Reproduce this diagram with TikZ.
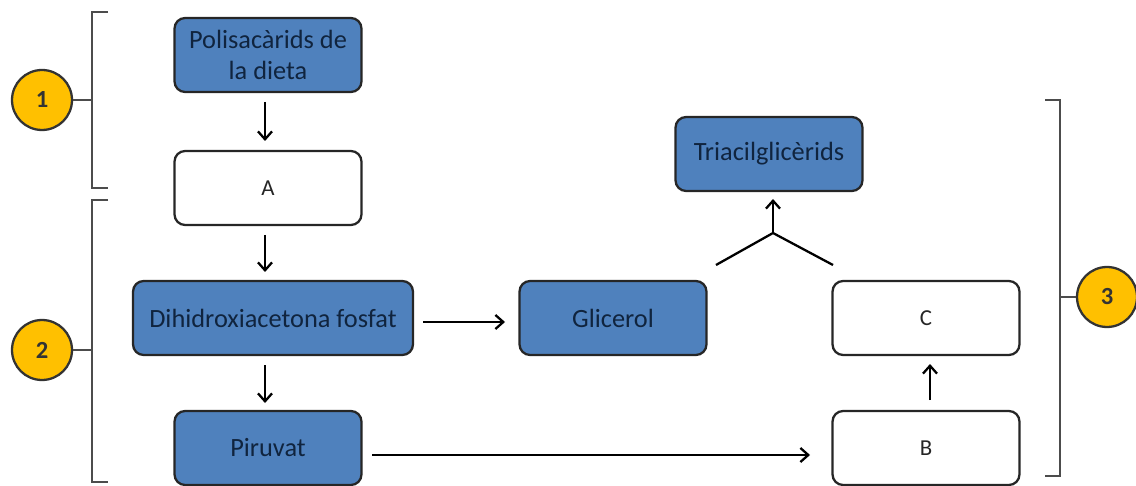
\documentclass[tikz,border=0pt]{standalone}
\usepackage{fontspec}
\setmainfont{Carlito}
\usetikzlibrary{arrows.meta}
\definecolor{boxblue}{HTML}{4F81BD}
\definecolor{boxtext}{HTML}{10243E}
\definecolor{stepgold}{HTML}{FFC000}
\tikzset{
  blubox/.style={draw=black!85,line width=1.3pt,fill=boxblue,rounded corners=6pt,
    minimum width=3.74cm,minimum height=1.48cm,align=center,text=boxtext,
    font=\fontsize{15}{18}\selectfont},
  whibox/.style={blubox,fill=white,text=black!85,font=\fontsize{13}{15}\selectfont},
  numdot/.style={circle,draw=black!80,line width=1.3pt,fill=stepgold,minimum size=1.2cm,
    inner sep=0pt,font=\fontsize{14}{16}\selectfont\bfseries,text=black!80},
  flow/.style={line width=1.3pt,-{Straight Barb[length=4.5pt,width=8pt]}},
  brack/.style={line width=1pt,draw=black!70}
}
\begin{document}
\begin{tikzpicture}[x=0.02cm,y=-0.02cm]
  \useasboundingbox (0,0) rectangle (1136,486);
  % Define boxes
  \node[blubox] (pol) at (268,55) {Polisacàrids de\\la dieta};
  \node[whibox] (a) at (268,188) {A};
  \node[blubox,minimum width=5.6cm] (dhap) at (273,318) {Dihidroxiacetona fosfat};
  \node[blubox] (pir) at (268,448) {Piruvat};
  \node[blubox] (gli) at (613,318) {Glicerol};
  \node[blubox] (tag) at (769,154) {Triacilglicèrids};
  \node[whibox] (c) at (926,318) {C};
  \node[whibox] (b) at (926,448) {B};

  % Define circles
  \node[numdot] (n1) at (42,100) {1};
  \node[numdot] (n2) at (42,350) {2};
  \node[numdot] (n3) at (1107,297) {3};

  % Arrow end points
  \coordinate (p1) at (265,102);  \coordinate (p2) at (265,141);
  \coordinate (p3) at (265,235);  \coordinate (p4) at (265,272);
  \coordinate (p5) at (265,365);  \coordinate (p6) at (265,403);
  \coordinate (p7) at (423,322);  \coordinate (p8) at (505,322);
  \coordinate (p9) at (372,455);  \coordinate (p10) at (810,455);
  \coordinate (p11) at (930,400); \coordinate (p12) at (930,364);
  % Junction points
  \coordinate (jl) at (716,265);
  \coordinate (jm) at (773,233);
  \coordinate (jr) at (833,265);
  \coordinate (jt) at (773,199);

  % Draw arrows
  \draw[flow] (p1) -- (p2);
  \draw[flow] (p3) -- (p4);
  \draw[flow] (p5) -- (p6);
  \draw[flow] (p7) -- (p8);
  \draw[flow] (p9) -- (p10);
  \draw[flow] (p11) -- (p12);
  \draw[line width=1.3pt] (jl) -- (jm) -- (jr);
  \draw[flow] (jm) -- (jt);

  % Draw brackets
  \draw[brack] (108,12) -- (92,12) -- (92,188) -- (108,188);
  \draw[brack] (108,200) -- (92,200) -- (92,482) -- (108,482);
  \draw[brack] (1045,100) -- (1060,100) -- (1060,476) -- (1045,476);
  \draw[brack] (n1.east) -- (92,100);
  \draw[brack] (n2.east) -- (92,350);
  \draw[brack] (n3.west) -- (1060,297);
\end{tikzpicture}
\end{document}
